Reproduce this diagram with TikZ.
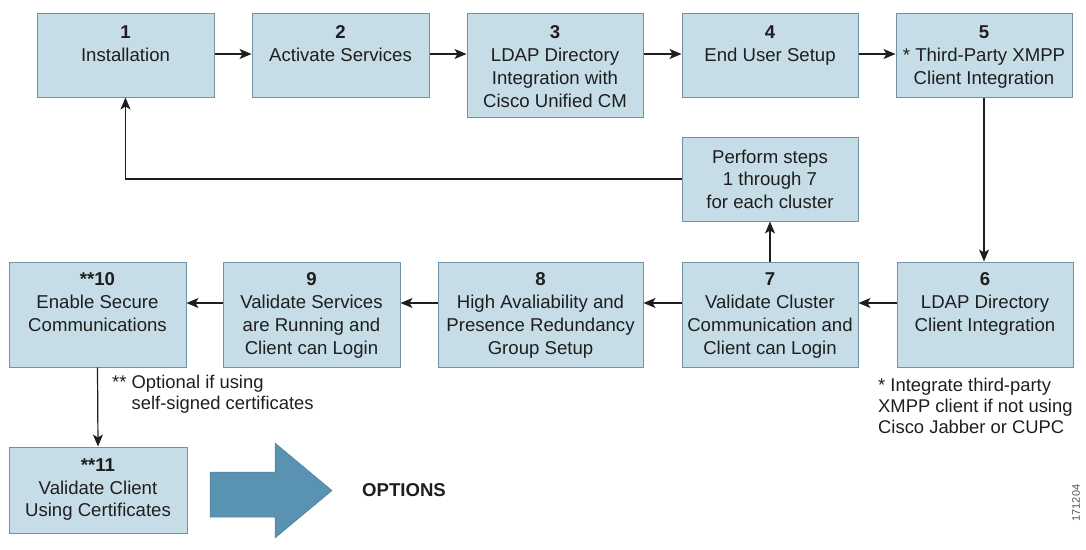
\documentclass[tikz,border=0pt]{standalone}
\usepackage{fontspec}
\setmainfont{Liberation Sans}
\usetikzlibrary{arrows.meta,calc}
\definecolor{boxfill}{RGB}{198,221,231}
\definecolor{boxedge}{RGB}{112,146,164}
\definecolor{bigarrow}{RGB}{90,147,178}
\definecolor{ink}{RGB}{30,30,30}
\begin{document}
\begin{tikzpicture}[x=1pt,y=-1pt,
  box/.style={draw=boxedge, line width=1pt, fill=boxfill, inner sep=0pt},
  txt/.style={font=\fontsize{18.6}{23}\selectfont, text=ink, align=center, inner sep=0pt, anchor=north},
  ctxt/.style={font=\fontsize{18.6}{22.5}\selectfont, text=ink, align=center},
  conn/.style={draw=ink, line width=1.2pt, -{Stealth[length=12pt,width=10pt,inset=3pt]}},
  note/.style={font=\fontsize{18.4}{21}\selectfont, text=ink, align=left, inner sep=0pt, anchor=north west}]

\useasboundingbox (0,0) rectangle (1086,549);

% row 1
\node[box, minimum width=177pt, minimum height=84pt] (b1) at (125.5,55) {};
\node[box, minimum width=177pt, minimum height=84pt] (b2) at (340.5,55) {};
\node[box, minimum width=176pt, minimum height=104pt] (b3) at (555,65) {};
\node[box, minimum width=176pt, minimum height=84pt] (b4) at (770,55) {};
\node[box, minimum width=176pt, minimum height=84pt] (b5) at (984,55) {};
% perform
\node[box, ctxt, minimum width=176pt, minimum height=84pt] (p) at (770,179)
  {Perform steps\\1 through 7\\for each cluster};
% row 2
\node[box, minimum width=176pt, minimum height=105pt] (b6) at (985,314.5) {};
\node[box, minimum width=176pt, minimum height=105pt] (b7) at (770,314.5) {};
\node[box, minimum width=205pt, minimum height=105pt] (b8) at (540.5,314.5) {};
\node[box, minimum width=177pt, minimum height=105pt] (b9) at (311.5,314.5) {};
\node[box, minimum width=177pt, minimum height=105pt] (b10) at (97.5,314.5) {};
% row 3
\node[box, ctxt, minimum width=178pt, minimum height=86pt] (b11) at (98,490)
  {\textbf{**11}\\Validate Client\\Using Certificates};

% texts
\node[txt] (t1) at ($(b1.north)+(0,9.4)$) {\strut\textbf{1}\\Installation};
\node[txt] (t2) at ($(b2.north)+(0,9.4)$) {\strut\textbf{2}\\Activate Services};
\node[txt] (t3) at ($(b3.north)+(0,9.4)$) {\strut\textbf{3}\\LDAP Directory\\Integration with\\Cisco Unified CM};
\node[txt] (t4) at ($(b4.north)+(0,9.4)$) {\strut\textbf{4}\\End User Setup};
\node[txt] (t5) at ($(b5.north)+(0,9.4)$) {\strut\textbf{5}\\* Third-Party XMPP\\Client Integration};
\node[txt] (t6) at ($(b6.north)+(0,7.4)$) {\strut\textbf{6}\\LDAP Directory\\Client Integration};
\node[txt] (t7) at ($(b7.north)+(0,7.4)$) {\strut\textbf{7}\\Validate Cluster\\Communication and\\Client can Login};
\node[txt] (t8) at ($(b8.north)+(0,7.4)$) {\strut\textbf{8}\\High Avaliability and\\Presence Redundancy\\Group Setup};
\node[txt] (t9) at ($(b9.north)+(0,7.4)$) {\strut\textbf{9}\\Validate Services\\are Running and\\Client can Login};
\node[txt] (t10) at ($(b10.north)+(0,7.4)$) {\strut\textbf{**10}\\Enable Secure\\Communications};

% connectors
\coordinate (r1) at (0,54);
\coordinate (r2) at (0,303);
\draw[conn] (b1.east |- r1) -- (b2.west |- r1);
\draw[conn] (b2.east |- r1) -- (b3.west |- r1);
\draw[conn] (b3.east |- r1) -- (b4.west |- r1);
\draw[conn] (b4.east |- r1) -- (b5.west |- r1);
\draw[conn] (b5.south) -- (b5.south |- b6.north);
\draw[conn] (b6.west |- r2) -- (b7.east |- r2);
\draw[conn] (b7.west |- r2) -- (b8.east |- r2);
\draw[conn] (b8.west |- r2) -- (b9.east |- r2);
\draw[conn] (b9.west |- r2) -- (b10.east |- r2);
\draw[conn] (b7.north) -- (p.south);
\draw[conn] (p.west) -| (b1.south);
\draw[conn] (b10.south) -- (b11.north);

% big arrow
\path[fill=bigarrow, draw=bigarrow!85!black, line width=0.5pt]
  (210,472) -- (275,472) -- (275,443) -- (332,490.5) -- (275,538) -- (275,517) -- (210,517) -- cycle;
\node[font=\fontsize{18.6}{21}\selectfont\bfseries, text=ink] (opt) at (404,490) {OPTIONS};

% notes
\node[note] (n1) at (112,374) {\strut** Optional if using\\\phantom{** }self-signed certificates};
\node[note] (n2) at (878,377) {\strut* Integrate third-party\\XMPP client if not using\\Cisco Jabber or CUPC};
\node[rotate=90, font=\fontsize{11}{13}\selectfont, text=ink!75] (fig) at (1076,503) {171204};
\end{tikzpicture}
\end{document}
